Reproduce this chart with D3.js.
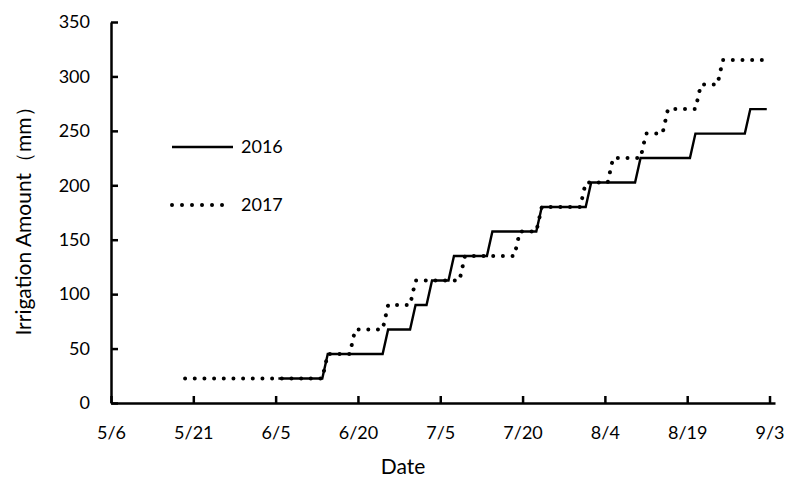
<!DOCTYPE html>
<html>
<head>
<meta charset="utf-8">
<script src="https://cdn.jsdelivr.net/npm/d3@7"></script>
<style>
    body { margin: 0; background: #fff; }
    text { font-family: Lato, "Noto Sans", sans-serif; fill: #000; }
</style>
</head>
<body>
<div id="chart"></div>
<script>
// corner points of the cumulative irrigation steps (month/day, mm)
const dates2016 = ["6/5", "6/13", "6/14", "6/24", "6/25", "6/29", "6/30", "7/2", "7/3", "7/6", "7/7", "7/13",
    "7/14", "7/22", "7/23", "7/31", "8/1", "8/9", "8/10", "8/19", "8/20", "8/29", "8/30", "9/2"];
const values2016 = [22.5, 22.5, 45, 45, 67.5, 67.5, 90, 90, 112.5, 112.5, 135, 135,
    157.5, 157.5, 180, 180, 202.5, 202.5, 225, 225, 247.5, 247.5, 270, 270];

const dates2017 = ["5/19", "6/13", "6/14", "6/18", "6/19", "6/24", "6/25", "6/29", "6/30", "7/8", "7/9", "7/18",
    "7/19", "7/22", "7/23", "7/30", "7/31", "8/4", "8/5", "8/10", "8/11", "8/14", "8/15", "8/20",
    "8/21", "8/24", "8/25", "9/2"];
const values2017 = [22.5, 22.5, 45, 45, 67.5, 67.5, 90, 90, 112.5, 112.5, 135, 135,
    157.5, 157.5, 180, 180, 202.5, 202.5, 225, 225, 247.5, 247.5, 270, 270,
    292.5, 292.5, 315, 315];

const seriesNames = ["2016", "2017"];
const xTickLabels = ["5/6", "5/21", "6/5", "6/20", "7/5", "7/20", "8/4", "8/19", "9/3"];
const yTickValues = [0, 50, 100, 150, 200, 250, 300, 350];
const xDomain = ["5/6", "9/4"];

const width = 790, height = 479;
const margin = {left: 111, right: 15, top: 22, bottom: 76};

// month/day -> UTC date (the year does not matter, both seasons share one axis)
function parseDay(s) {
    let p = s.split("/");
    return new Date(Date.UTC(2017, +p[0] - 1, +p[1]));
}
// points sit in the middle of their day slot, like an Excel date axis
function midDay(s) {
    return new Date(parseDay(s).getTime() + 12 * 3600 * 1000);
}

const svg = d3.select("#chart").append("svg")
    .attr("width", width)
    .attr("height", height);

const x = d3.scaleUtc()
    .domain(xDomain.map(parseDay))
    .range([margin.left, width - margin.right]);

const y = d3.scaleLinear()
    .domain([0, 350])
    .range([height - margin.bottom, margin.top]);

/*
 *  Axes, ticks pointing into the plot.
 */
const xAxis = svg.append("g")
    .attr("transform", "translate(0," + y(0) + ")")
    .call(d3.axisBottom(x)
        .tickValues(xTickLabels.map(parseDay))
        .tickFormat(d3.utcFormat("%-m/%-d"))
        .tickSizeInner(-7)
        .tickSizeOuter(0)
        .tickPadding(23));

const yAxis = svg.append("g")
    .attr("transform", "translate(" + margin.left + ",0)")
    .call(d3.axisLeft(y)
        .tickValues(yTickValues)
        .tickSizeInner(-7)
        .tickSizeOuter(0)
        .tickPadding(21));

[xAxis, yAxis].forEach(function(g) {
    g.select(".domain").attr("stroke", "#000").attr("stroke-width", 2.5);
    g.selectAll(".tick line").attr("stroke", "#000").attr("stroke-width", 2.5);
    g.selectAll(".tick text")
        .attr("font-size", 18)
        .attr("font-family", "Lato, sans-serif")
        .attr("fill", "#000");
});

/*
 *  Step lines.
 */
const line = d3.line()
    .x(d => x(midDay(d[0])))
    .y(d => y(d[1]));

const data2016 = dates2016.map((d, i) => [d, values2016[i]]);
const data2017 = dates2017.map((d, i) => [d, values2017[i]]);

svg.append("path")
    .datum(data2016)
    .attr("d", line)
    .attr("fill", "none")
    .attr("stroke", "#000")
    .attr("stroke-width", 2.4);

svg.append("path")
    .datum(data2017)
    .attr("d", line)
    .attr("fill", "none")
    .attr("stroke", "#000")
    .attr("stroke-width", 4)
    .attr("stroke-linecap", "round")
    .attr("stroke-dasharray", "0.001 9.67");

/*
 *  Legend inside the plot.
 */
const legend = svg.append("g");
const legendRows = [
    {name: seriesNames[0], y: 147, dash: null, width: 2.4, x2: 233},
    {name: seriesNames[1], y: 205, dash: "0.001 10", width: 4, x2: 232}
];
legendRows.forEach(function(r) {
    legend.append("line")
        .attr("x1", 172).attr("x2", r.x2)
        .attr("y1", r.y).attr("y2", r.y)
        .attr("stroke", "#000")
        .attr("stroke-width", r.width)
        .attr("stroke-linecap", r.dash ? "round" : "butt")
        .attr("stroke-dasharray", r.dash);
    legend.append("text")
        .attr("x", 241)
        .attr("y", r.y)
        .attr("dy", "0.35em")
        .attr("font-size", 18)
        .text(r.name);
});

/*
 *  Axis titles.
 */
svg.append("text")
    .attr("x", 403)
    .attr("y", 474)
    .attr("text-anchor", "middle")
    .attr("font-size", 21)
    .text("Date");

svg.append("text")
    .attr("transform", "translate(31," + 216 + ") rotate(-90)")
    .attr("text-anchor", "middle")
    .attr("font-size", 21)
    .text("Irrigation Amount（mm）");
</script>
</body>
</html>
